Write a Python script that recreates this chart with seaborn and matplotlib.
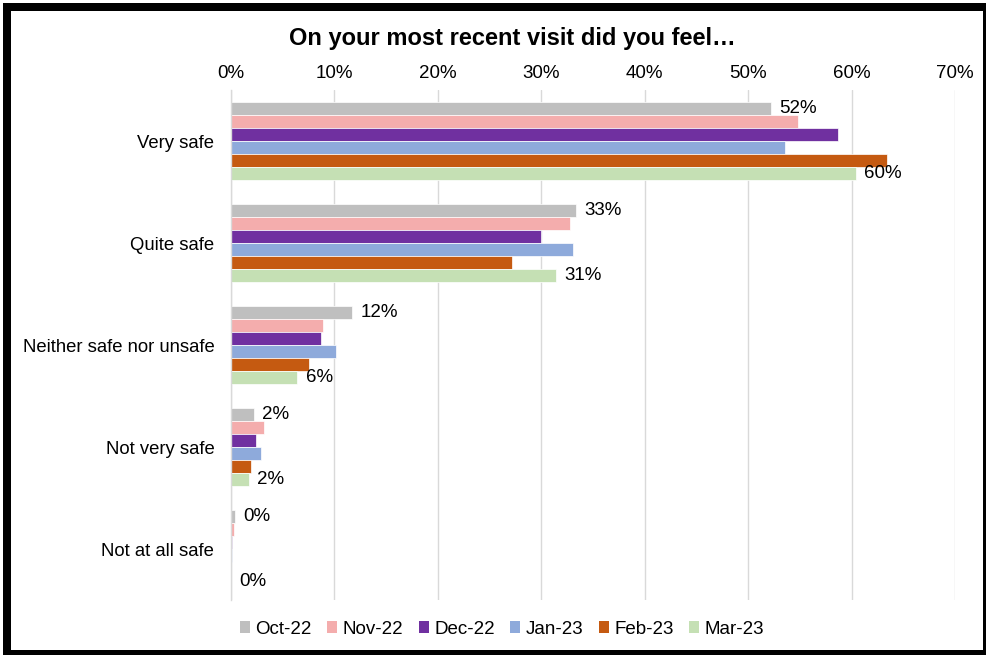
import matplotlib
matplotlib.use("Agg")
import matplotlib.pyplot as plt
import matplotlib.patches as mpatches
import seaborn as sns
import pandas as pd

categories = ["Very safe", "Quite safe", "Neither safe nor unsafe", "Not very safe", "Not at all safe"]
months = ["Oct-22", "Nov-22", "Dec-22", "Jan-23", "Feb-23", "Mar-23"]
oct22 = [52.2, 33.4, 11.7, 2.2, 0.4]
nov22 = [54.8, 32.8, 8.9, 3.2, 0.3]
dec22 = [58.7, 30.0, 8.7, 2.4, 0.1]
jan23 = [53.6, 33.1, 10.2, 2.9, 0.05]
feb23 = [63.4, 27.2, 7.5, 1.9, 0.0]
mar23 = [60.4, 31.4, 6.4, 1.7, 0.0]
colors = ["#BFBFBF", "#F4ADAD", "#7030A0", "#8EAADB", "#C55A11", "#C5E0B4"]
xticks = [0, 10, 20, 30, 40, 50, 60, 70]
title = "On your most recent visit did you feel\u2026"

series = [oct22, nov22, dec22, jan23, feb23, mar23]
rows = []
for m, vals in zip(months, series):
    for c, v in zip(categories, vals):
        rows.append({"Response": c, "Month": m, "Value": v})
df = pd.DataFrame(rows)

sns.set_theme(style="white")
plt.rcParams["font.family"] = ["Liberation Sans", "DejaVu Sans"]
plt.rcParams["text.color"] = "#000000"

fig = plt.figure(figsize=(9.87, 6.55), dpi=100)
ax = fig.add_axes([231 / 987, 1 - 600 / 655, (955 - 231) / 987, 510 / 655])

sns.barplot(data=df, y="Response", x="Value", hue="Month", order=categories,
            hue_order=months, palette=colors, orient="h", width=0.765,
            gap=0, ax=ax, legend=False, linewidth=0.5, edgecolor="white",
            saturation=1)

ax.set_xlim(0, 70)
ax.xaxis.tick_top()
ax.set_xticks(xticks)
ax.set_xticklabels([f"{t}%" for t in xticks], fontsize=13.5, color="#000000")
ax.tick_params(axis="x", length=0, pad=6)
ax.tick_params(axis="y", length=0, pad=12, labelsize=13.3, labelcolor="#000000")
ax.set_xlabel("")
ax.set_ylabel("")
ax.grid(axis="x", color="#D9D9D9", linewidth=1)
ax.set_axisbelow(True)
for s in ["top", "right", "bottom"]:
    ax.spines[s].set_visible(False)
ax.spines["left"].set_color("#D9D9D9")
ax.spines["left"].set_linewidth(1)

# data labels on Oct-22 and Mar-23 series
conts = ax.containers
ax.bar_label(conts[0], labels=[f"{v:.0f}%" for v in oct22], padding=6, fontsize=13.5, color="#000000")
ax.bar_label(conts[5], labels=[f"{v:.0f}%" for v in mar23], padding=6, fontsize=13.5, color="#000000")

fig.text(512 / 987, 1 - 38 / 655, title, ha="center", va="center", fontsize=17,
         fontweight="bold", color="#000000")

handles = [mpatches.Patch(facecolor=c, edgecolor="none", label=m) for c, m in zip(colors, months)]
fig.legend(handles=handles, loc="center", bbox_to_anchor=(502 / 987, 1 - 629 / 655), ncol=6,
           frameon=False, fontsize=13.5, handlelength=0.55, handleheight=0.55,
           handletextpad=0.3, columnspacing=0.8, labelcolor="#000000")

# black frame
W, H = 987, 655
def frame(x0, y0, w, h):
    fig.add_artist(mpatches.Rectangle((x0 / W, 1 - (y0 + h) / H), w / W, h / H,
                                      transform=fig.transFigure, facecolor="black",
                                      edgecolor="none", clip_on=False))
frame(3, 3, 984, 8)
frame(3, 3, 8, 652)
frame(3, 650, 984, 5)
frame(983, 3, 4, 652)

fig.savefig("out.png", dpi=100)
